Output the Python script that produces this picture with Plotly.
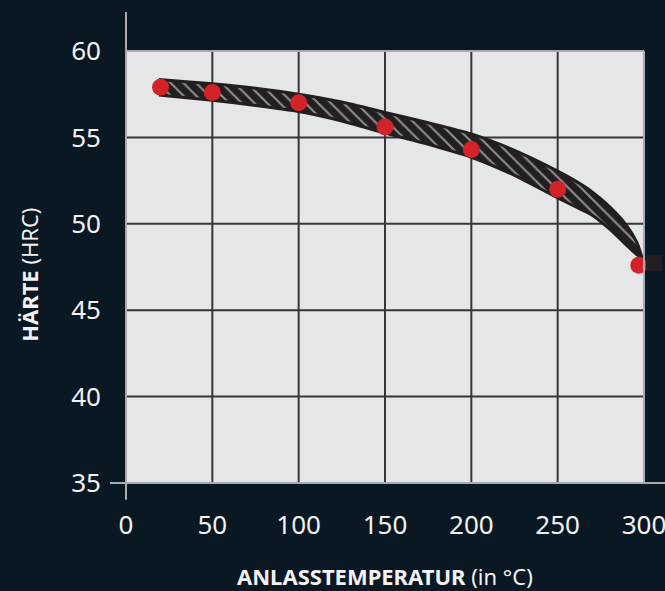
import plotly.graph_objects as go

# Data
temp_points = [20, 50, 100, 150, 200, 250, 297]
hardness_points = [57.9, 57.6, 57.0, 55.6, 54.3, 52.0, 47.6]

band_x = [19, 35, 50, 75, 100, 125, 150, 175, 200, 225, 250, 260, 270, 280, 290, 296, 299]
band_upper = [58.35, 58.22, 58.1, 57.85, 57.5, 57.05, 56.45, 55.85, 55.2, 54.25, 53.05,
              52.5, 51.85, 51.0, 49.9, 48.9, 48.0]
band_lower = [57.45, 57.3, 57.15, 56.85, 56.5, 55.95, 55.25, 54.6, 53.85, 52.8, 51.5,
              51.0, 50.5, 49.7, 48.75, 48.2, 48.0]

x_ticks = [0, 50, 100, 150, 200, 250, 300]
y_ticks = [35, 40, 45, 50, 55, 60]

BG = "#0a1823"
PLOT_BG = "#e5e6e8"
GRID = "#363638"
AXIS = "#a7abb0"
BAND = "#231f20"
RED = "#d3222a"
FONT = "Noto Sans"

fig = go.Figure()

fig.add_trace(go.Scatter(
    x=band_x + band_x[::-1],
    y=band_upper + band_lower[::-1],
    mode="lines",
    line=dict(color=BAND, width=3, shape="spline", smoothing=0.6),
    fill="toself",
    fillcolor=BAND,
    fillpattern=dict(shape="\\", bgcolor=BAND, fgcolor="#ffffff", size=9, solidity=0.22),
    hoverinfo="skip",
    showlegend=False,
))

fig.add_trace(go.Scatter(
    x=temp_points, y=hardness_points,
    mode="markers",
    marker=dict(color=RED, size=17, line=dict(width=0)),
    showlegend=False,
    cliponaxis=False,
))

shapes = []
for xv in x_ticks[1:-1]:
    shapes.append(dict(type="line", xref="x", yref="paper", x0=xv, x1=xv, y0=0, y1=1,
                       line=dict(color=GRID, width=2), layer="below"))
for yv in y_ticks[1:-1]:
    shapes.append(dict(type="line", xref="paper", yref="y", x0=0, x1=1, y0=yv, y1=yv,
                       line=dict(color=GRID, width=2), layer="below"))
shapes.append(dict(type="line", xref="paper", yref="paper", x0=0, x1=1, y0=1, y1=1,
                   line=dict(color=AXIS, width=2)))
shapes.append(dict(type="line", xref="paper", yref="paper", x0=1, x1=1, y0=0, y1=1,
                   line=dict(color=AXIS, width=2)))
shapes.append(dict(type="line", xref="paper", yref="paper", x0=0, x1=0, y0=-0.039, y1=1.09,
                   line=dict(color=AXIS, width=2)))
shapes.append(dict(type="line", xref="paper", yref="paper", x0=-0.031, x1=1.05, y0=0, y1=0,
                   line=dict(color=AXIS, width=2)))
shapes.append(dict(type="rect", xref="paper", yref="y", x0=1.004, x1=1.035, y0=47.25, y1=48.18,
                   fillcolor=BAND, line=dict(width=0)))

fig.update_layout(
    width=665, height=591, autosize=False,
    paper_bgcolor=BG, plot_bgcolor=PLOT_BG,
    margin=dict(l=126, r=21, t=51, b=108, autoexpand=False),
    shapes=shapes,
    font=dict(family=FONT, color="#f2f2f2", size=26),
    annotations=[
        dict(text="<b>ANLASSTEMPERATUR</b> (in °C)", xref="paper", yref="paper",
             x=0.5, y=-0.215, xanchor="center", yanchor="middle", showarrow=False,
             font=dict(family=FONT, size=22, color="#f2f2f2")),
        dict(text="<b>HÄRTE</b> (HRC)", xref="paper", yref="paper",
             x=-0.186, y=0.481, xanchor="center", yanchor="middle", showarrow=False,
             textangle=-90, font=dict(family=FONT, size=22, color="#f2f2f2")),
    ],
)

fig.update_xaxes(range=[0, 300], tickvals=x_ticks, ticktext=[str(v) for v in x_ticks],
                 showgrid=False, zeroline=False, showline=False, ticks="",
                 ticklabelstandoff=24, ticklabeloverflow="allow", automargin=False)
fig.update_yaxes(range=[35, 60], tickvals=y_ticks, ticktext=[str(v) for v in y_ticks],
                 showgrid=False, zeroline=False, showline=False, ticks="",
                 ticklabelstandoff=24, ticklabeloverflow="allow", automargin=False)

fig.write_html("out.html", config={"displayModeBar": False},
               post_script="document.body.style.margin='0';document.body.style.background='#0a1823';")
